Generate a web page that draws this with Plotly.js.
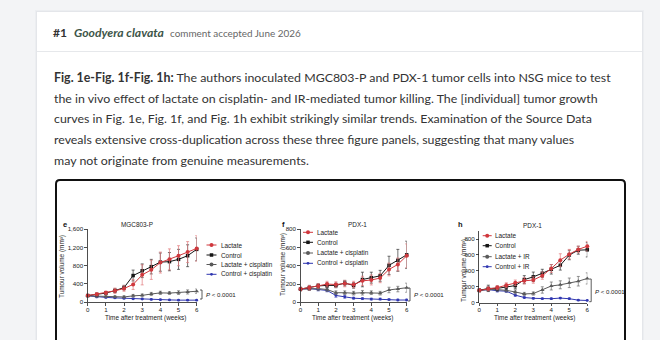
<!DOCTYPE html>
<html><head><meta charset="utf-8">
<script src="https://cdn.plot.ly/plotly-3.0.1.min.js"></script>
<style>html,body{margin:0;padding:0;background:#f3f4f6;}#chart{width:660px;height:340px;}</style>
</head><body><div id="chart"></div>
<script>
// ---------------- DATA ----------------
const weeks = [0,0.5,1,1.5,2,2.5,3,3.5,4,4.5,5,5.5,6];
const xTickVals = [0,1,2,3,4,5,6];
const xTickText = ['0','1','2','3','4','5','6'];

// Panel e: MGC803-P
const eLactate      = [145,175,205,250,300,390,600,710,870,940,1020,1100,1180];
const eLactateErr   = [20,30,40,60,60,110,220,210,230,230,220,230,280];
const eControl      = [145,170,200,255,320,585,690,780,880,890,940,1020,1160];
const eControlErr   = [20,25,30,40,50,120,150,160,200,200,220,240,250];
const eLactCis      = [140,130,125,120,115,140,150,180,205,200,210,225,240];
const eLactCisErr   = [20,20,20,20,25,30,30,35,35,30,40,45,50];
const eCtrlCis      = [140,115,105,95,85,75,70,60,55,50,45,45,45];
const eCtrlCisErr   = [15,15,15,15,15,10,10,10,10,10,10,10,10];
const eTickVals = [0,400,800,1200,1600];
const eTickText = ['0','400','800','1,200','1,600'];

// Panel f: PDX-1 (cisplatin)
const fLactate      = [145,160,180,200,195,205,195,235,245,265,360,415,510];
const fLactateErr   = [20,25,25,30,30,35,35,50,55,50,70,70,130];
const fControl      = [145,160,180,185,185,210,185,250,270,290,405,460,520];
const fControlErr   = [20,25,25,25,25,30,30,80,60,60,100,120,150];
const fLactCis      = [145,150,150,140,105,105,100,105,105,100,135,145,160];
const fLactCisErr   = [15,20,20,20,20,20,20,25,20,20,30,30,50];
const fCtrlCis      = [145,150,140,130,75,60,45,40,35,35,30,25,25];
const fCtrlCisErr   = [15,15,15,15,20,15,10,10,10,10,8,8,8];
const fTickVals = [0,200,400,600,800];
const fTickText = ['0','200','400','600','800'];

// Panel h: PDX-1 (IR)
const hLactate      = [155,175,190,220,250,275,285,340,430,535,610,670,710];
const hLactateErr   = [20,25,25,30,35,40,40,45,50,80,60,40,60];
const hControl      = [155,180,180,200,215,290,325,370,420,470,600,660,665];
const hControlErr   = [20,40,30,30,40,50,60,50,60,60,60,50,90];
const hLactIR       = [155,165,165,155,135,110,115,160,210,225,250,270,305];
const hLactIRErr    = [15,20,20,20,25,20,20,40,50,50,60,60,70];
const hCtrlIR       = [155,165,150,145,95,65,55,50,50,58,50,32,28];
const hCtrlIRErr    = [15,15,15,15,15,10,10,8,8,8,8,6,6];
const hTickVals = [0,200,400,600,800];
const hTickText = ['0','200','400','600','800'];

const namesCis = ['Lactate','Control','Lactate + cisplatin','Control + cisplatin'];
const namesIR  = ['Lactate','Control','Lactate + IR','Control + IR'];
const panelTitles = ['MGC803-P','PDX-1','PDX-1'];
const panelLetters = ['e','f','h'];
const xTitle = 'Time after treatment (weeks)';
const yTitle = 'Tumour volume (mm³)';
const pText = '<i>P</i> &lt; 0.0001';

const headerParts = ['#1','Goodyera clavata','comment accepted June 2026'];
const paraLines = [
  '<b>Fig. 1e-Fig. 1f-Fig. 1h:</b> The authors inoculated MGC803-P and PDX-1 tumor cells into NSG mice to test',
  'the in vivo effect of lactate on cisplatin- and IR-mediated tumor killing. The [individual] tumor growth',
  'curves in Fig. 1e, Fig. 1f, and Fig. 1h exhibit strikingly similar trends. Examination of the Source Data',
  'reveals extensive cross-duplication across these three figure panels, suggesting that many values',
  'may not originate from genuine measurements.'
];

// ---------------- LAYOUT HELPERS ----------------
const W = 660, H = 340;
const px = x => x / W;
const py = y => 1 - y / H;
const CF = 'Liberation Sans, Arial, sans-serif';
const PF = 'Lato, Open Sans, sans-serif';
const FS = 6.4;   // chart text size
const TS = 6.2;   // tick label size

function measure(text, size, fam, bold, ital) {
  const c = document.createElement('canvas').getContext('2d');
  c.font = (ital ? 'italic ' : '') + (bold ? 'bold ' : '') + size + 'px ' + fam;
  return c.measureText(text).width;
}
const l1b = 'Fig. 1e-Fig. 1f-Fig. 1h:', l1n = ' The authors inoculated MGC803-P and PDX-1 tumor cells into NSG mice to test';
const paraSize = 100 * 558 / (measure(l1b, 100, 'Lato', true) + measure(l1n, 100, 'Lato', false));
// header parts: left edges and target widths
const hx = [52, 73, 169];
const hTarget = [14, 90, 131];
const hdrSizes = [
  100 * hTarget[0] / measure(headerParts[0], 100, 'Lato', true),
  100 * hTarget[1] / measure(headerParts[1], 100, 'Lato', true, true),
  100 * hTarget[2] / measure(headerParts[2], 100, 'Lato')
];

const styles = {
  lac:  {c:'#d0383d', ec:'#e27a7d', s:4,   sym:'circle'},
  ctl:  {c:'#151515', ec:'#333333', s:3.5, sym:'square'},
  lt:   {c:'#5a5a5a', ec:'#6a6a6a', s:4,   sym:'triangle-up'},
  ct:   {c:'#2f36b0', ec:'#4a50c0', s:2.8, sym:'circle'}
};

function mk(y, err, name, st, xa, ya) {
  return {type:'scatter', mode:'lines+markers', x:weeks, y:y, name:name, xaxis:xa, yaxis:ya,
    showlegend:false, cliponaxis:false, hoverinfo:'skip',
    line:{color:st.c, width:1}, marker:{color:st.c, size:st.s, symbol:st.sym},
    error_y:{type:'data', array:err, visible:true, color:st.ec, thickness:0.7, width:1.5}};
}

const traces = [
  mk(eCtrlCis, eCtrlCisErr, namesCis[3], styles.ct, 'x', 'y'),
  mk(eLactCis, eLactCisErr, namesCis[2], styles.lt, 'x', 'y'),
  mk(eControl, eControlErr, namesCis[1], styles.ctl, 'x', 'y'),
  mk(eLactate, eLactateErr, namesCis[0], styles.lac, 'x', 'y'),
  mk(fCtrlCis, fCtrlCisErr, namesCis[3], styles.ct, 'x2', 'y2'),
  mk(fLactCis, fLactCisErr, namesCis[2], styles.lt, 'x2', 'y2'),
  mk(fControl, fControlErr, namesCis[1], styles.ctl, 'x2', 'y2'),
  mk(fLactate, fLactateErr, namesCis[0], styles.lac, 'x2', 'y2'),
  mk(hCtrlIR, hCtrlIRErr, namesIR[3], styles.ct, 'x3', 'y3'),
  mk(hLactIR, hLactIRErr, namesIR[2], styles.lt, 'x3', 'y3'),
  mk(hControl, hControlErr, namesIR[1], styles.ctl, 'x3', 'y3'),
  mk(hLactate, hLactateErr, namesIR[0], styles.lac, 'x3', 'y3')
];

function xax(d0, d1, anchor) {
  return {domain:[px(d0), px(d1)], anchor:anchor, range:[0,6], tickvals:xTickVals, ticktext:xTickText,
    showline:true, linecolor:'#222', linewidth:0.8, ticks:'outside', ticklen:2.5, tickwidth:0.8, tickcolor:'#222',
    ticklabelstandoff:-1,
    tickfont:{size:TS, color:'#222', family:CF}, showgrid:false, zeroline:false, fixedrange:true};
}
function yax(b, t, anchor, range, tv, tt) {
  return {domain:[py(b), py(t)], anchor:anchor, range:range, tickvals:tv, ticktext:tt,
    showline:true, linecolor:'#222', linewidth:0.8, ticks:'outside', ticklen:2.5, tickwidth:0.8, tickcolor:'#222',
    tickfont:{size:TS, color:'#222', family:CF}, showgrid:false, zeroline:false, fixedrange:true};
}

const ann = [];
const shapes = [];
function A(text, x, y, opt) {
  ann.push(Object.assign({text:text, x:px(x), y:py(y), xref:'paper', yref:'paper', showarrow:false,
    xanchor:'center', yanchor:'middle', borderpad:0, font:{family:CF, size:FS, color:'#222'}}, opt || {}));
}

// page card (soft shadow + white card)
shapes.push({type:'rect', xref:'paper', yref:'paper', x0:px(35), x1:px(644), y0:py(360), y1:py(10),
  fillcolor:'#eceef1', line:{width:0}, layer:'below'});
shapes.push({type:'rect', xref:'paper', yref:'paper', x0:px(36), x1:px(643), y0:py(360), y1:py(11),
  fillcolor:'#e4e6ea', line:{width:0}, layer:'below'});
shapes.push({type:'rect', xref:'paper', yref:'paper', x0:px(37), x1:px(642), y0:py(360), y1:py(12),
  fillcolor:'#ffffff', line:{width:0}, layer:'below'});
shapes.push({type:'line', xref:'paper', yref:'paper', x0:px(37), x1:px(642), y0:py(51.5), y1:py(51.5),
  line:{color:'#e6e8eb', width:1}, layer:'below'});
// chart frame (rounded)
const fr = {l:56, r:625, t:180, b:350, k:4};
shapes.push({type:'path', xref:'paper', yref:'paper', layer:'below', line:{color:'#111', width:2},
  path:`M ${px(fr.l)},${py(fr.b)} L ${px(fr.l)},${py(fr.t+fr.k)} Q ${px(fr.l)},${py(fr.t)} ${px(fr.l+fr.k)},${py(fr.t)} L ${px(fr.r-fr.k)},${py(fr.t)} Q ${px(fr.r)},${py(fr.t)} ${px(fr.r)},${py(fr.t+fr.k)} L ${px(fr.r)},${py(fr.b)}`});

// header
A('<b>' + headerParts[0] + '</b>', hx[0], 33, {xanchor:'left', font:{family:PF, size:hdrSizes[0], color:'#333'}});
A('<b><i>' + headerParts[1] + '</i></b>', hx[1], 33, {xanchor:'left', font:{family:PF, size:hdrSizes[1], color:'#3d5548'}});
A(headerParts[2], hx[2], 33, {xanchor:'left', font:{family:PF, size:hdrSizes[2], color:'#666'}});
// paragraph
paraLines.forEach((t, i) => A(t, 53, 78 + i * 20.5, {xanchor:'left', font:{family:PF, size:paraSize, color:'#333'}}));

// panels
const panels = [
  {letter:[65,224], title:[137,224], ytl:[62,266], xtl:[145,317.5], legX:[206.5,216.5,220], legY:[245,255,264.5,274.3], names:namesCis, p:[205,294], br:[202,290,299]},
  {letter:[283,224], title:[357,224], ytl:[283,265], xtl:[353,318], legX:[303,313,316], legY:[232.3,242.3,253,263.3], names:namesCis, p:[413,294.3], br:[410,288,301]},
  {letter:[460,224], title:[532,225], ytl:[464,271], xtl:[534,317.5], legX:[482.7,491.7,494], legY:[235.7,245.7,256.7,266.7], names:namesIR, p:[593.5,291], br:[591.2,279,301.7]}
];
const legStyles = [styles.lac, styles.ctl, styles.lt, styles.ct];
panels.forEach((P, k) => {
  A('<b>' + panelLetters[k] + '</b>', P.letter[0], P.letter[1], {font:{family:CF, size:7.5, color:'#111'}});
  A(panelTitles[k], P.title[0], P.title[1]);
  A(yTitle, P.ytl[0], P.ytl[1], {textangle:-90});
  A(xTitle, P.xtl[0], P.xtl[1]);
  P.names.forEach((n, i) => {
    const st = legStyles[i], y = P.legY[i];
    A(n, P.legX[2], y, {xanchor:'left'});
    shapes.push({type:'line', xref:'paper', yref:'paper', x0:px(P.legX[0]), x1:px(P.legX[1]), y0:py(y), y1:py(y), line:{color:st.c, width:1}});
    const cx = (P.legX[0] + P.legX[1]) / 2, r = st.s / 2;
    shapes.push({type: st.sym === 'square' ? 'rect' : 'circle', xref:'paper', yref:'paper',
      x0:px(cx - r), x1:px(cx + r), y0:py(y + r), y1:py(y - r), fillcolor:st.c, line:{width:0}});
  });
  A(pText, P.p[0], P.p[1], {xanchor:'left', font:{family:CF, size:6.1, color:'#222'}});
  shapes.push({type:'path', xref:'paper', yref:'paper', line:{color:'#333', width:0.8},
    path:`M ${px(P.br[0]-2)},${py(P.br[1])} L ${px(P.br[0])},${py(P.br[1])} L ${px(P.br[0])},${py(P.br[2])} L ${px(P.br[0]-2)},${py(P.br[2])}`});
});

const layout = {
  width:W, height:H, margin:{l:0, r:0, t:0, b:0}, paper_bgcolor:'#f3f4f6', plot_bgcolor:'rgba(0,0,0,0)',
  showlegend:false, font:{family:CF},
  xaxis: xax(87.7, 196.7, 'y'),  yaxis: yax(302.2, 229.3, 'x', [0,1600], eTickVals, eTickText),
  xaxis2: xax(300.5, 406.7, 'y2'), yaxis2: yax(302.3, 229.3, 'x2', [0,800], fTickVals, fTickText),
  xaxis3: xax(479.3, 587.3, 'y3'), yaxis3: yax(302.7, 231.1, 'x3', [0,900], hTickVals, hTickText),
  annotations: ann, shapes: shapes
};
Plotly.newPlot('chart', traces, layout, {staticPlot:true, displayModeBar:false});
</script></body></html>
